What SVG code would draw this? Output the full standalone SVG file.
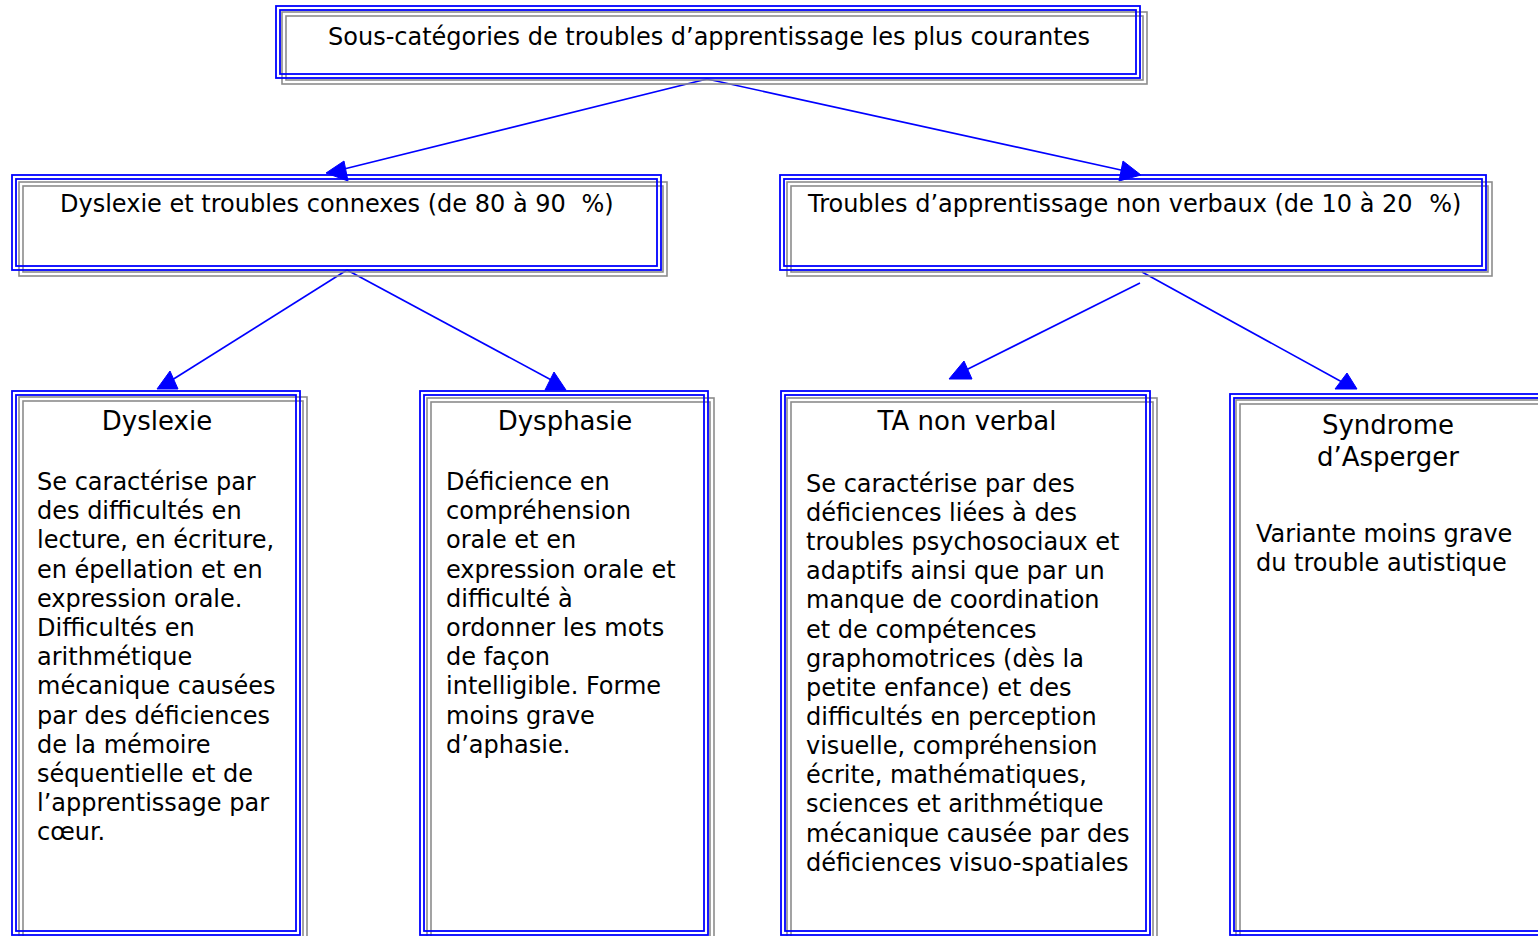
<svg xmlns="http://www.w3.org/2000/svg" width="1538" height="936" viewBox="0 0 1538 936">
<style>
.g{fill:none;stroke:#8c8c8c;stroke-width:1.6}
.b{fill:none;stroke:#0000ff;stroke-width:1.8}
text{font-family:"DejaVu Sans","Verdana",sans-serif;fill:#000}
.h{font-size:24px}
.t{font-size:26px;text-anchor:middle}
.p{font-size:24px}
.ln{stroke:#0000ff;stroke-width:1.6;fill:none}
.hd{fill:#0000ff;stroke:#0000ff;stroke-width:1;stroke-linejoin:round}
</style>
<rect width="1538" height="936" fill="#ffffff"/>

<g id="connectors">
<line class="ln" x1="707" y1="79" x2="340" y2="170"/>
<polygon class="hd" points="326,173 344,161 348,181"/>
<line class="ln" x1="707" y1="79" x2="1130" y2="172"/>
<polygon class="hd" points="1123,161 1119,181 1141,175"/>
<line class="ln" x1="347" y1="270" x2="172" y2="380"/>
<polygon class="hd" points="157,389 178,389 170,371"/>
<line class="ln" x1="347" y1="270" x2="555" y2="382"/>
<polygon class="hd" points="545,390 566,390 554,372"/>
<line class="ln" x1="1140" y1="283" x2="962" y2="372"/>
<polygon class="hd" points="949,379 972,379 964,361"/>
<line class="ln" x1="1142" y1="272" x2="1342" y2="382"/>
<polygon class="hd" points="1335,389 1357,389 1347,373"/>
</g>

<g id="root">
<rect class="g" x="282" y="12" width="865" height="72"/>
<rect class="g" x="286" y="16" width="857" height="64"/>
<rect class="b" x="276" y="6" width="864" height="72"/>
<rect class="b" x="280" y="10" width="856" height="64"/>
<text class="h" x="328" y="45">Sous-catégories de troubles d’apprentissage les plus courantes</text>
</g>

<g id="dyslexie-connexes">
<rect class="g" x="19" y="182" width="648" height="94"/>
<rect class="g" x="23" y="186" width="640" height="86"/>
<rect class="b" x="12" y="175" width="649" height="95"/>
<rect class="b" x="16" y="179" width="641" height="87"/>
<text class="h" x="60" y="212">Dyslexie et troubles connexes (de 80 à 90 <tspan dx="8">%)</tspan></text>
</g>

<g id="ta-non-verbaux">
<rect class="g" x="787" y="182" width="705" height="94"/>
<rect class="g" x="791" y="186" width="697" height="86"/>
<rect class="b" x="780" y="175" width="706" height="95"/>
<rect class="b" x="784" y="179" width="698" height="87"/>
<text class="h" x="808" y="212">Troubles d’apprentissage non verbaux (de 10 à 20 <tspan dx="9">%)</tspan></text>
</g>

<g id="dyslexie">
<rect class="g" x="19" y="397" width="288" height="560"/>
<rect class="g" x="23" y="401" width="280" height="560"/>
<rect class="b" x="12" y="391" width="288" height="544"/>
<rect class="b" x="16" y="395" width="280" height="536"/>
<text class="t" x="157" y="430">Dyslexie</text>
<text class="p" x="37" y="490">
<tspan x="37" y="490">Se caractérise par</tspan>
<tspan x="37" y="519">des difficultés en</tspan>
<tspan x="37" y="548">lecture, en écriture,</tspan>
<tspan x="37" y="578">en épellation et en</tspan>
<tspan x="37" y="607">expression orale.</tspan>
<tspan x="37" y="636">Difficultés en</tspan>
<tspan x="37" y="665">arithmétique</tspan>
<tspan x="37" y="694">mécanique causées</tspan>
<tspan x="37" y="724">par des déficiences</tspan>
<tspan x="37" y="753">de la mémoire</tspan>
<tspan x="37" y="782">séquentielle et de</tspan>
<tspan x="37" y="811">l’apprentissage par</tspan>
<tspan x="37" y="840">cœur.</tspan>
</text>
</g>

<g id="dysphasie">
<rect class="g" x="427" y="398" width="287" height="560"/>
<rect class="g" x="431" y="402" width="279" height="560"/>
<rect class="b" x="420" y="391" width="288" height="544"/>
<rect class="b" x="424" y="395" width="280" height="536"/>
<text class="t" x="565" y="430">Dysphasie</text>
<text class="p" x="446" y="490">
<tspan x="446" y="490">Déficience en</tspan>
<tspan x="446" y="519">compréhension</tspan>
<tspan x="446" y="548">orale et en</tspan>
<tspan x="446" y="578">expression orale et</tspan>
<tspan x="446" y="607">difficulté à</tspan>
<tspan x="446" y="636">ordonner les mots</tspan>
<tspan x="446" y="665">de façon</tspan>
<tspan x="446" y="694">intelligible. Forme</tspan>
<tspan x="446" y="724">moins grave</tspan>
<tspan x="446" y="753">d’aphasie.</tspan>
</text>
</g>

<g id="ta-non-verbal">
<rect class="g" x="787" y="398" width="370" height="560"/>
<rect class="g" x="791" y="402" width="362" height="560"/>
<rect class="b" x="781" y="391" width="369" height="544"/>
<rect class="b" x="785" y="395" width="361" height="536"/>
<text class="t" x="967" y="430">TA non verbal</text>
<text class="p" x="806" y="492">
<tspan x="806" y="492">Se caractérise par des</tspan>
<tspan x="806" y="521">déficiences liées à des</tspan>
<tspan x="806" y="550">troubles psychosociaux et</tspan>
<tspan x="806" y="579">adaptifs ainsi que par un</tspan>
<tspan x="806" y="608">manque de coordination</tspan>
<tspan x="806" y="638">et de compétences</tspan>
<tspan x="806" y="667">graphomotrices (dès la</tspan>
<tspan x="806" y="696">petite enfance) et des</tspan>
<tspan x="806" y="725">difficultés en perception</tspan>
<tspan x="806" y="754">visuelle, compréhension</tspan>
<tspan x="806" y="783">écrite, mathématiques,</tspan>
<tspan x="806" y="812">sciences et arithmétique</tspan>
<tspan x="806" y="842">mécanique causée par des</tspan>
<tspan x="806" y="871">déficiences visuo-spatiales</tspan>
</text>
</g>

<g id="asperger">
<rect class="g" x="1236" y="400" width="320" height="560"/>
<rect class="g" x="1240" y="404" width="312" height="560"/>
<rect class="b" x="1230" y="394" width="320" height="541"/>
<rect class="b" x="1234" y="398" width="312" height="533"/>
<text class="t" x="1388" y="434">Syndrome</text>
<text class="t" x="1388" y="466">d’Asperger</text>
<text class="p" x="1256" y="542">
<tspan x="1256" y="542">Variante moins grave</tspan>
<tspan x="1256" y="571">du trouble autistique</tspan>
</text>
</g>
</svg>
